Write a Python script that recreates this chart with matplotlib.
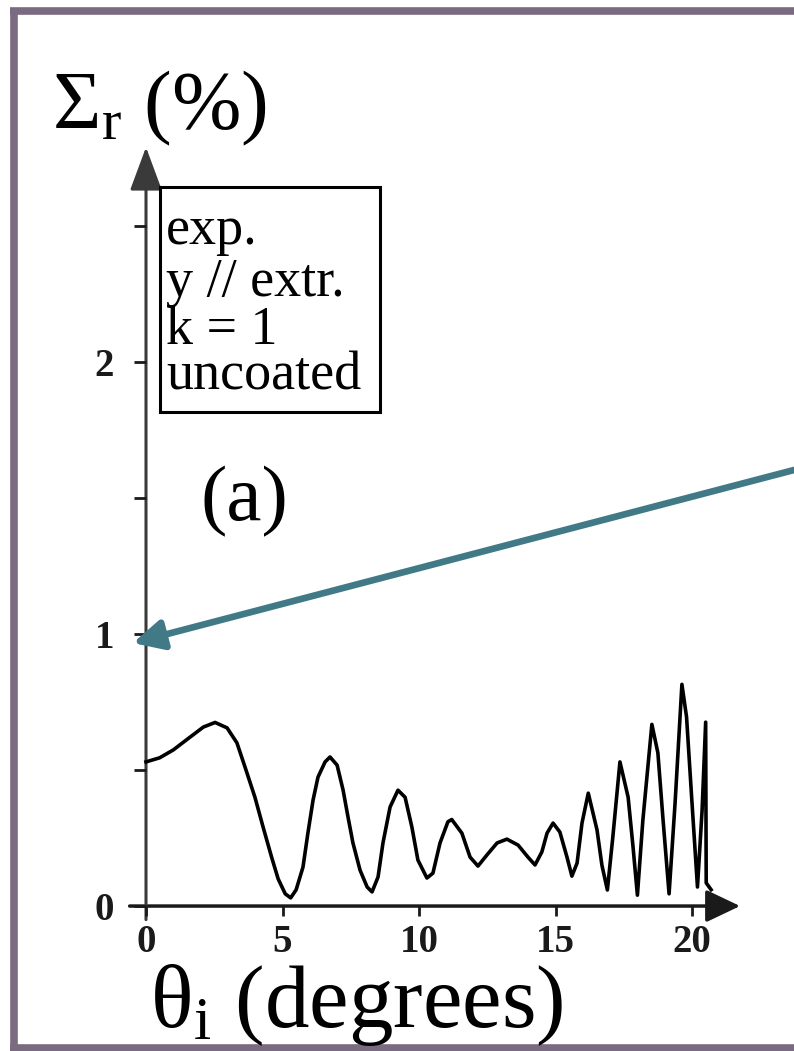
import matplotlib
matplotlib.use("Agg")
import matplotlib.pyplot as plt
from matplotlib.patches import Rectangle
from matplotlib.lines import Line2D

plt.rcParams['font.family'] = ['Liberation Serif', 'DejaVu Serif']
plt.rcParams['mathtext.fontset'] = 'custom'
plt.rcParams['mathtext.rm'] = 'Liberation Serif'
plt.rcParams['mathtext.it'] = 'Liberation Serif:italic'
plt.rcParams['mathtext.bf'] = 'Liberation Serif:bold'

## Data
theta = [0.00, 0.50, 1.00, 1.60, 2.10, 2.53, 2.97, 3.33, 3.63, 3.99,
         4.29, 4.60, 4.84, 5.10, 5.30, 5.50, 5.75, 5.93, 6.12, 6.30,
         6.56, 6.74, 7.00, 7.22, 7.40, 7.58, 7.84, 8.10, 8.28, 8.50,
         8.68, 8.94, 9.23, 9.49, 9.74, 9.96, 10.29, 10.51, 10.77, 11.06,
         11.20, 11.57, 11.87, 12.16, 12.49, 12.86, 13.22, 13.63, 13.99, 14.25,
         14.50, 14.69, 14.91, 15.16, 15.42, 15.60, 15.79, 15.97, 16.20, 16.52,
         16.70, 16.90, 17.10, 17.36, 17.66, 17.84, 18.00, 18.20, 18.53, 18.75,
         18.94, 19.16, 19.38, 19.63, 19.80, 20.00, 20.20, 20.37, 20.50, 20.52,
         20.70]
sigma = [0.530, 0.545, 0.574, 0.620, 0.658, 0.675, 0.655, 0.600, 0.510, 0.400,
         0.290, 0.180, 0.100, 0.045, 0.030, 0.060, 0.143, 0.268, 0.390, 0.474,
         0.530, 0.548, 0.518, 0.426, 0.327, 0.232, 0.132, 0.070, 0.052, 0.107,
         0.232, 0.364, 0.426, 0.400, 0.290, 0.169, 0.103, 0.121, 0.232, 0.310,
         0.318, 0.268, 0.180, 0.147, 0.188, 0.232, 0.246, 0.224, 0.180, 0.151,
         0.199, 0.268, 0.305, 0.272, 0.180, 0.110, 0.158, 0.305, 0.415, 0.280,
         0.150, 0.059, 0.254, 0.530, 0.400, 0.217, 0.040, 0.316, 0.668, 0.563,
         0.316, 0.045, 0.379, 0.815, 0.695, 0.379, 0.070, 0.353, 0.676, 0.085,
         0.060]

xticks = [0, 5, 10, 15, 20]
yticks = [0, 1, 2]
yminor = [0.5, 1.5, 2.5]
legend_lines = ["exp.", "y // extr.", "k = 1", "uncoated"]

teal = "#417a86"
frame = "#7b6b80"

W, H = 794, 1051
fig = plt.figure(figsize=(W / 100, H / 100), dpi=100)
ax = fig.add_axes([0.1495, 0.0991, 0.8252, 0.7764])
ax.set_xlim(-1, 23)
ax.set_ylim(-0.15, 2.85)
ax.patch.set_alpha(0)

for s in ["top", "right", "left", "bottom"]:
    ax.spines[s].set_visible(False)
ax.spines["left"].set_position(("data", 0))
ax.spines["bottom"].set_position(("data", 0))

# axis lines with arrow heads
ax.annotate("", xy=(21.76, 0), xytext=(-0.6, 0),
            arrowprops=dict(arrowstyle="-|>,head_length=1.05,head_width=0.5",
                            lw=2.5, color="#1a1a1a", mutation_scale=20,
                            shrinkA=0, shrinkB=0),
            annotation_clip=False, zorder=1)
ax.annotate("", xy=(0, 2.79), xytext=(0, -0.05),
            arrowprops=dict(arrowstyle="-|>,head_length=1.35,head_width=0.5",
                            lw=2.2, color="#3a3a3a", mutation_scale=20,
                            shrinkA=0, shrinkB=0),
            annotation_clip=False, zorder=1)

ax.plot(theta, sigma, color="black", lw=2.6, zorder=3, solid_joinstyle="round")

ax.set_xticks(xticks)
ax.set_xticklabels([str(t) for t in xticks])
ax.set_yticks(yticks)
ax.set_yticklabels([str(t) for t in yticks])
ax.set_yticks(yminor, minor=True)
ax.tick_params(axis="x", direction="out", length=7, width=2, pad=6,
               labelsize=28, colors="#1a1a1a")
ax.tick_params(axis="y", which="both", direction="out", length=9, width=2,
               pad=14, labelsize=28, colors="#1a1a1a")
for lab in ax.get_xticklabels() + ax.get_yticklabels():
    lab.set_fontweight("bold")

# axis titles
fig.text(52 / W, 1 - 128 / H, r"Σ$_{\mathrm{r}}$ (%)", fontsize=60,
         ha="left", va="baseline")
fig.text(150 / W, 1 - 1027 / H, r"θ$_{\mathrm{i}}$ (degrees)", fontsize=64,
         ha="left", va="baseline")

# info box
box = Rectangle((160 / W, 1 - 412 / H), 220 / W, 225 / H,
                transform=fig.transFigure, fill=False, lw=2.2, ec="black")
fig.patches.append(box)
baselines = [244, 296, 344, 390]
for txt, yb in zip(legend_lines, baselines):
    fig.text(166 / W, 1 - yb / H, txt, fontsize=39, ha="left", va="baseline")

fig.text(244 / W, 1 - 520 / H, "(a)", fontsize=57, ha="center", va="baseline")

# teal pointer arrow
ax.annotate("", xy=(-0.48, 0.967), xycoords="data",
            xytext=(1.0, 1 - 470 / H), textcoords="figure fraction",
            arrowprops=dict(arrowstyle="-|>,head_length=0.9,head_width=0.45",
                            lw=4.8, color=teal, mutation_scale=20,
                            shrinkA=0, shrinkB=0),
            annotation_clip=False, zorder=5)

# outer frame (top, left, bottom only; right side is cut off)
for xs, ys in [((10, W), (11, 11)), ((14, 14), (8, H)), ((10, W), (1048, 1048))]:
    fig.add_artist(Line2D([x / W for x in xs], [1 - y / H for y in ys],
                          transform=fig.transFigure, lw=5.5, color=frame,
                          solid_capstyle="butt"))

fig.savefig("out.png", dpi=100)
